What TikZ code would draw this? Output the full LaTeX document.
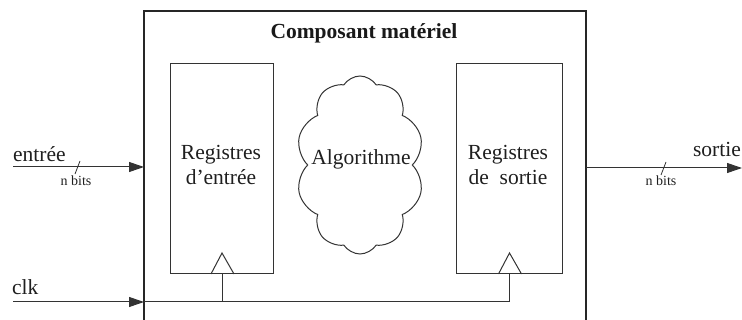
\documentclass[tikz,border=0pt]{standalone}
\usepackage{fontspec}
\setmainfont{Liberation Serif}
\usetikzlibrary{shapes.symbols,arrows.meta}
\begin{document}
\begin{tikzpicture}[x=1pt,y=-1pt,
  ln/.style={line width=1pt,draw=black!80},
  arr/.style={ln,-{Triangle[length=15pt,width=10pt]}},
  lbl/.style={font=\fontsize{21.5}{25}\selectfont,inner sep=0pt,text=black!88},
  small/.style={font=\fontsize{14}{16}\selectfont,inner sep=0pt,text=black!88},
  reg/.style={ln,rectangle,inner sep=0pt,anchor=north west},
]
\useasboundingbox (0,0) rectangle (742,320);
\clip (0,0) rectangle (742,320);
% outer component box (cut at bottom)
\coordinate (bl) at (144,340);
\coordinate (tl) at (144,11);
\coordinate (tr) at (586,11);
\coordinate (br) at (586,340);
\draw[line width=1.3pt,draw=black!85] (bl) -- (tl) -- (tr) -- (br);
\node[font=\bfseries\fontsize{21.5}{25}\selectfont,anchor=base,inner sep=0pt,text=black!90] (title) at (364,39) {Composant matériel};
% registers
\node[reg,minimum width=103pt,minimum height=210pt] (rin) at (170,63) {};
\node[reg,minimum width=106pt,minimum height=210pt] (rout) at (456,63) {};
\node[lbl,anchor=base] (rin1) at (221,160) {Registres};
\node[lbl,anchor=base] (rin2) at (221,185) {d’entrée};
\node[lbl,anchor=base] (rout1) at (508,160) {Registres};
\node[lbl,anchor=base] (rout2) at (508,185) {de\ \ sortie};
% clock triangles
\draw[ln] (rin.south) ++(-11,0) -- ++(11,-21) -- ++(12,21);
\draw[ln] (rout.south) ++(-11,0) -- ++(11,-21) -- ++(12,21);
% cloud
\node[cloud,ln,draw,cloud puffs=10,cloud puff arc=115,cloud ignores aspect,
      minimum width=128pt,minimum height=178pt,inner sep=0pt] (algo) at (360,165) {};
\node[lbl,anchor=base] (algotxt) at (361,165) {Algorithme};
% input
\coordinate (in0) at (13,167);
\coordinate (in1) at (144,167);
\draw[arr] (in0) -- (in1);
\draw[ln,line width=0.8pt] (75,174) -- (80,161);
\node[lbl,anchor=base west] (inlbl) at (13,162) {entrée};
\node[small,anchor=base] (inbits) at (76,186) {n bits};
% output
\coordinate (out0) at (586,168);
\coordinate (out1) at (742,168);
\draw[arr] (out0) -- (out1);
\draw[ln,line width=0.8pt] (661,175) -- (666,162);
\node[lbl,anchor=base east] (outlbl) at (741,157) {sortie};
\node[small,anchor=base] (outbits) at (661,186) {n bits};
% clock
\coordinate (clk0) at (13,302);
\coordinate (clkin) at (144,302);
\draw[arr] (clk0) -- (clkin);
\draw[ln] (clkin) -- (rout.south |- clkin) -- (rout.south);
\draw[ln] (rin.south) -- (rin.south |- clkin);
\node[lbl,anchor=base west] (clklbl) at (12,295) {clk};
\end{tikzpicture}
\end{document}
